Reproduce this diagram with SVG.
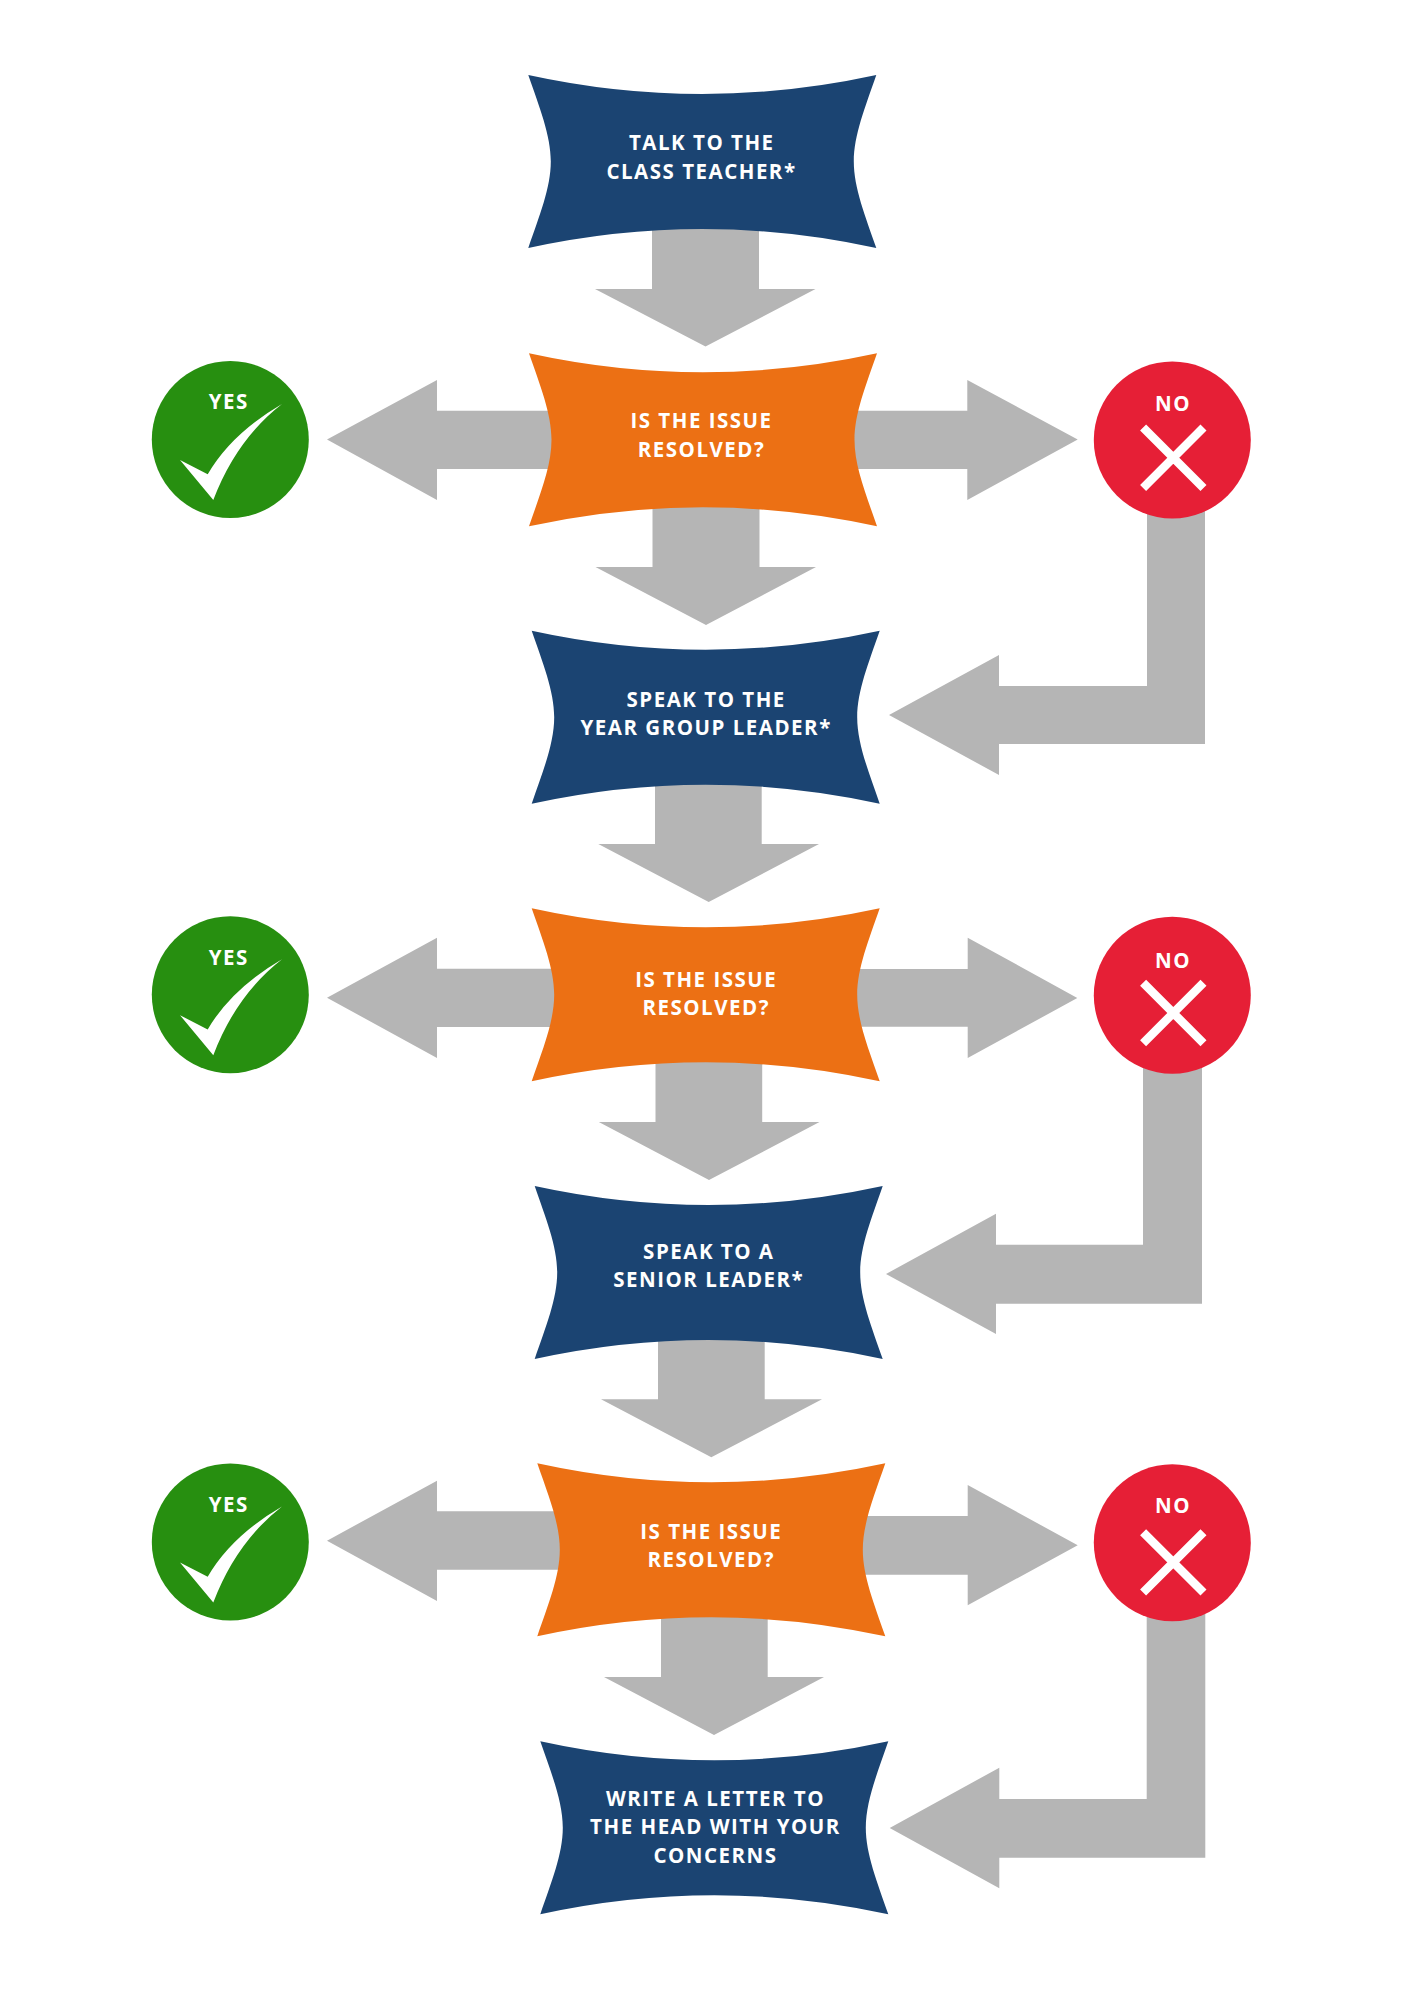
<svg xmlns="http://www.w3.org/2000/svg" width="1414" height="2000" viewBox="0 0 1414 2000">
<style>
.arrow{fill:#b5b5b5}
.navy{fill:#1b4472}
.orange{fill:#ec7014}
.green{fill:#278f10}
.red{fill:#e61f36}
.mark{fill:#fff}
.cross{stroke:#fff;stroke-width:8.5;fill:none}
text{font-family:"Open Sans","Liberation Sans",sans-serif;font-weight:700;font-size:20.5px;letter-spacing:1.5px;fill:#fff;text-anchor:middle}
</style>
<defs>
<path id="banner" d="M0 0Q174 38 348 0C337 32 325.500 60 325.500 86.500C325.500 113 337 141 348 173Q174 135 0 173C11 141 22.500 113 22.500 86.500C22.500 60 11 32 0 0Z"/>
<path id="check" d="M-50.300 20.500L-22.600 34.800Q1 -6 51.700 -35.500Q6 0 -17 60.500Z"/>
<g id="x"><path class="cross" d="M-29.200 -12.500L31.200 47.900M31.200 -12.500L-29.200 47.900"/></g>
</defs>
<rect width="1414" height="2000" fill="#fff"/>
<g id="connectors" class="arrow">
<path d="M652 180H759V289H815.500L705.500 346.500L595 289H652Z"/>
<path d="M652.500 480H759.500V567H816L706 625L595.500 567H652.500Z"/>
<path d="M655 760H761.700V844H819L708.700 902L598.300 844H655Z"/>
<path d="M655.500 1040H762.200V1122H819.500L709 1180L598.800 1122H655.500Z"/>
<path d="M658 1300H764.700V1399.300H822L711.300 1457.300L601 1399.300H658Z"/>
<path d="M661 1590H767.700V1677H824L714 1735L604 1677H661Z"/>
<path d="M560 410.700H437V380L327 439.500L437 500V469H560Z"/>
<path d="M850 410.700H967.300V380L1077.700 439.500L967.300 500V469H850Z"/>
<path d="M1147 500H1205V744H999V775L889 715L999 655V686H1147Z"/>
<path d="M560 968.700H437V937.700L327 997.700L437 1058V1027H560Z"/>
<path d="M850 969H967.700V937.700L1077.300 998L967.700 1058V1026.700H850Z"/>
<path d="M1143 1050H1202V1303.700H996V1334L886 1274L996 1213.700V1244.700H1143Z"/>
<path d="M570 1511.300H437V1480.700L327 1540.700L437 1601V1569.700H570Z"/>
<path d="M850 1516H967.700V1485L1077.700 1545.300L967.700 1605.300V1574.700H850Z"/>
<path d="M1146.700 1600H1205.300V1857.700H999.300V1888.300L889.700 1828L999.300 1767.700V1799H1146.700Z"/>
</g>
<g id="node-talk"><use href="#banner" class="navy" x="528.300" y="75"/><text x="701.800" y="150">TALK TO THE</text><text x="701.500" y="179">CLASS TEACHER*</text></g>
<g id="node-resolved-1"><use href="#banner" class="orange" x="529" y="353.300"/><text x="701.500" y="428">IS THE ISSUE</text><text x="701.500" y="457">RESOLVED?</text></g>
<g id="node-year"><use href="#banner" class="navy" x="531.700" y="630.700"/><text x="706.200" y="706.700">SPEAK TO THE</text><text x="706.200" y="735.300">YEAR GROUP LEADER*</text></g>
<g id="node-resolved-2"><use href="#banner" class="orange" x="531.700" y="908.300"/><text x="706.200" y="986.500">IS THE ISSUE</text><text x="706.200" y="1015">RESOLVED?</text></g>
<g id="node-senior"><use href="#banner" class="navy" x="534.700" y="1186"/><text x="708.800" y="1258.700">SPEAK TO A</text><text x="708.800" y="1287">SENIOR LEADER*</text></g>
<g id="node-resolved-3"><use href="#banner" class="orange" x="537.300" y="1463.300"/><text x="711.300" y="1538.700">IS THE ISSUE</text><text x="711.300" y="1567.300">RESOLVED?</text></g>
<g id="node-letter"><use href="#banner" class="navy" x="540.300" y="1741.300"/><text x="715.500" y="1805.700">WRITE A LETTER TO</text><text x="715.500" y="1834.300">THE HEAD WITH YOUR</text><text x="715.500" y="1862.700">CONCERNS</text></g>
<g id="yes-1"><circle class="green" cx="230.300" cy="439.500" r="78.500"/><text x="228.800" y="409">YES</text><use href="#check" class="mark" x="230.300" y="439.500"/></g>
<g id="yes-2"><circle class="green" cx="230.300" cy="994.700" r="78.500"/><text x="228.800" y="965.300">YES</text><use href="#check" class="mark" x="230.300" y="994.700"/></g>
<g id="yes-3"><circle class="green" cx="230.300" cy="1542" r="78.500"/><text x="228.800" y="1512.300">YES</text><use href="#check" class="mark" x="230.300" y="1542"/></g>
<g id="no-1"><circle class="red" cx="1172.300" cy="440" r="78.500"/><text x="1173" y="411">NO</text><use href="#x" x="1172.300" y="440"/></g>
<g id="no-2"><circle class="red" cx="1172.300" cy="995.300" r="78.500"/><text x="1173" y="967.700">NO</text><use href="#x" x="1172.300" y="995.300"/></g>
<g id="no-3"><circle class="red" cx="1172.300" cy="1542.700" r="78.500"/><text x="1173" y="1512.700">NO</text><use href="#x" x="1172.300" y="1544.700"/></g>
</svg>
